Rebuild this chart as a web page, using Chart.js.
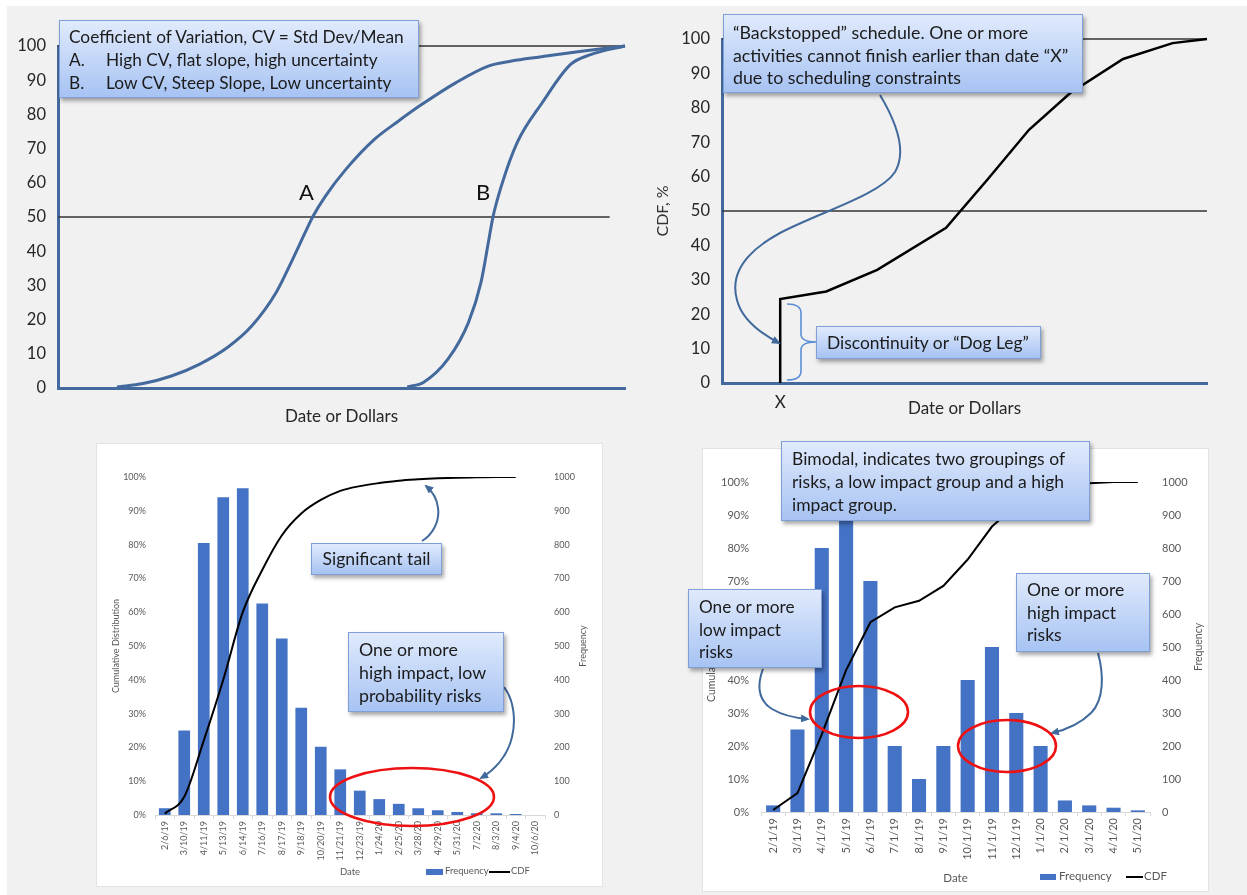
<!DOCTYPE html>
<html>
<head>
<meta charset="utf-8">
<script src="https://cdn.jsdelivr.net/npm/chart.js@4.4.1/dist/chart.umd.min.js"></script>
<style>
  html, body { margin: 0; padding: 0; width: 1247px; height: 895px; overflow: hidden; background: #fff; font-family: Lato, "Open Sans", sans-serif; }
  #stage { position: absolute; left: 7px; top: 6px; width: 1240px; height: 889px; background: #f1f1f1; }
  .card { position: absolute; background: #fff; border: 1px solid #e3e3e3; box-sizing: border-box; }
  canvas { position: absolute; }
  .callout { position: absolute; box-sizing: border-box; border: 1px solid #7f9fd6;
             background: linear-gradient(#e0eafc, #a7c3f3); box-shadow: 2px 3px 4px rgba(0,0,0,0.35);
             color: #1b1b1b; white-space: nowrap; }
  .lbl { position: absolute; white-space: nowrap; }
  .tab { display: inline-block; width: 37px; }
  #marks { position: absolute; left: 0; top: 0; }
  .key { position: absolute; }
</style>
</head>
<body>
<div id="stage"></div>
<div class="card" style="left:96px;top:443px;width:507px;height:444px"></div>
<div class="card" style="left:702px;top:448px;width:507px;height:444px"></div>

<canvas id="cvSpread" width="633" height="424" style="left:7px;top:6px"></canvas>
<canvas id="cvBackstop" width="607" height="424" style="left:640px;top:6px"></canvas>
<canvas id="cvTail" width="506" height="443" style="left:96px;top:443px"></canvas>
<canvas id="cvBimodal" width="506" height="443" style="left:702px;top:448px"></canvas>

<!-- curve names -->
<div class="lbl" style="left:299px;top:178px;font-size:22px;color:#111">A</div>
<div class="lbl" style="left:476px;top:178px;font-size:22px;color:#111">B</div>

<!-- legends for the two histogram charts -->
<div class="key" style="left:426px;top:869px;width:17px;height:6px;background:#4472c4"></div>
<div class="lbl" style="left:445px;top:865px;font-size:9.5px;color:#595959">Frequency</div>
<div class="key" style="left:489px;top:871px;width:21px;height:2px;background:#000"></div>
<div class="lbl" style="left:511px;top:865px;font-size:9.5px;color:#595959">CDF</div>

<div class="key" style="left:1040px;top:874px;width:16px;height:6px;background:#4472c4"></div>
<div class="lbl" style="left:1059px;top:869px;font-size:11.5px;color:#595959">Frequency</div>
<div class="key" style="left:1126px;top:876px;width:17px;height:2px;background:#000"></div>
<div class="lbl" style="left:1144px;top:869px;font-size:11.5px;color:#595959">CDF</div>

<!-- connectors, brace and highlight rings -->
<svg id="marks" width="1247" height="895" viewBox="0 0 1247 895">
  <defs>
    <marker id="head" markerWidth="9" markerHeight="8" refX="7" refY="4" orient="auto" markerUnits="userSpaceOnUse">
      <path d="M0,0 L9,4 L0,8 z" fill="#41699c"/>
    </marker>
  </defs>
  <g fill="none" stroke="#41699c" stroke-width="2" marker-end="url(#head)">
    <path d="M880,95 C895,120 908,150 895,172 C880,195 820,212 780,233 C745,252 730,275 737,300 C742,320 760,333 779,343"/>
    <path d="M422,541 C432,535 440,522 438,508 C437,498 432,491 426,486"/>
    <path d="M504,687 C514,700 516,720 512,737 C508,755 495,770 481,778"/>
    <path d="M763,669 C757,685 758,700 772,709 C782,715 795,718 808,719"/>
    <path d="M1098,653 C1104,675 1104,700 1091,713 C1080,724 1065,730 1052,733"/>
  </g>
  <path d="M787,304 Q801,304 801,313 L801,334 Q801,342 816,342 Q801,342 801,350 L801,371 Q801,380 787,380"
        fill="none" stroke="#5b8fd6" stroke-width="1.6"/>
  <g fill="none" stroke="#ee1111" stroke-width="2.6">
    <ellipse cx="412" cy="797" rx="82" ry="29"/>
    <ellipse cx="859" cy="712" rx="49" ry="26"/>
    <ellipse cx="1007" cy="746" rx="49" ry="26"/>
  </g>
</svg>

<!-- callouts -->
<div class="callout" style="left:59px;top:20px;width:360px;height:78px;font-size:17.3px;line-height:23px;padding:4px 0 0 9px">
  Coefficient of Variation, CV = Std Dev/Mean<br>
  <span class="tab">A.</span>High CV, flat slope, high uncertainty<br>
  <span class="tab">B.</span>Low CV, Steep Slope, Low uncertainty
</div>
<div class="callout" style="left:723px;top:14px;width:360px;height:79px;font-size:17.8px;line-height:22.5px;padding:6px 0 0 9px">
  “Backstopped” schedule. One or more<br>
  activities cannot finish earlier than date “X”<br>
  due to scheduling constraints
</div>
<div class="callout" style="left:816px;top:326px;width:225px;height:33px;font-size:17.4px;line-height:31px;padding:0 0 0 10px">
  Discontinuity or “Dog Leg”
</div>
<div class="callout" style="left:311px;top:543px;width:131px;height:32px;font-size:17.6px;line-height:30px;text-align:center">
  Significant tail
</div>
<div class="callout" style="left:348px;top:632px;width:156px;height:80px;font-size:17.8px;line-height:23px;padding:5px 0 0 10px">
  One or more<br>high impact, low<br>probability risks
</div>
<div class="callout" style="left:781px;top:441px;width:309px;height:80px;font-size:17.5px;line-height:23px;padding:5px 0 0 10px">
  Bimodal, indicates two groupings of<br>risks, a low impact group and a high<br>impact group.
</div>
<div class="callout" style="left:688px;top:589px;width:134px;height:79px;font-size:17.2px;line-height:22.5px;padding:6px 0 0 10px">
  One or more<br>low impact<br>risks
</div>
<div class="callout" style="left:1016px;top:573px;width:134px;height:79px;font-size:17.5px;line-height:22.5px;padding:5px 0 0 10px">
  One or more<br>high impact<br>risks
</div>

<script>
// ---- Coefficient-of-variation sketch: x is a fraction of the horizontal span, y is CDF %
const curveAX = [0.104, 0.150, 0.200, 0.250, 0.300, 0.342, 0.385, 0.414, 0.436, 0.450, 0.472, 0.508, 0.558, 0.600, 0.638, 0.702, 0.760, 0.800, 0.850, 0.920, 1.000];
const curveAY = [0.3, 1.3, 3.5, 7.0, 12.0, 18.2, 28.0, 37.7, 45.5, 50.3, 56.2, 64.0, 72.7, 78.0, 82.5, 89.3, 94.2, 95.6, 96.8, 98.4, 100];
const curveBX = [0.616, 0.645, 0.688, 0.724, 0.746, 0.760, 0.767, 0.782, 0.810, 0.854, 0.904, 0.938, 1.000];
const curveBY = [0.3, 1.7, 8.5, 19.2, 30.9, 43.5, 49.9, 59.1, 71.8, 83.4, 94.6, 97.4, 100];

// ---- Backstopped schedule: CDF with a vertical jump at date X
const backstopX = [0.12, 0.12, 0.215, 0.32, 0.462, 0.547, 0.633, 0.718, 0.827, 0.929, 1.0];
const backstopY = [0, 24.4, 26.6, 32.9, 45.1, 59.1, 73.6, 84.3, 94.2, 98.8, 100];
const dateMarkX = 0.12;

// ---- Histogram with a long tail
const tailDates = ['2/6/19','3/10/19','4/11/19','5/13/19','6/14/19','7/16/19','8/17/19','9/18/19','10/20/19','11/21/19',
                   '12/23/19','1/24/20','2/25/20','3/28/20','4/29/20','5/31/20','7/2/20','8/3/20','9/4/20','10/6/20'];
const tailFreq  = [20, 250, 805, 940, 967, 626, 522, 317, 202, 135, 72, 47, 33, 20, 14, 9, 5, 5, 3, 0];
const tailCdf   = [0.4, 5.4, 22, 40, 60, 72.5, 82.7, 89.2, 93.2, 95.9, 97.3, 98.2, 98.9, 99.3, 99.6, 99.8, 99.9, 100, 100, null];

// ---- Bimodal histogram
const groupDates = ['2/1/19','3/1/19','4/1/19','5/1/19','6/1/19','7/1/19','8/1/19','9/1/19','10/1/19','11/1/19',
                    '12/1/19','1/1/20','2/1/20','3/1/20','4/1/20','5/1/20'];
const groupFreq  = [20, 250, 800, 950, 700, 200, 100, 200, 400, 500, 300, 200, 35, 20, 13, 5];
const groupCdf   = [0.6, 5.7, 23.5, 43, 57.5, 62, 64, 68.5, 76.5, 86.5, 93, 97.5, 99, 99.6, 100, 100];

const pctTicks  = [0, 10, 20, 30, 40, 50, 60, 70, 80, 90, 100];
const freqTicks = [0, 100, 200, 300, 400, 500, 600, 700, 800, 900, 1000];

const STEEL = '#44699c';
const BAR = '#4472c4';
const INK = '#262626';
const MUTED = '#595959';

Chart.defaults.font.family = 'Lato, "Open Sans", sans-serif';
Chart.defaults.animation = false;
Chart.defaults.responsive = false;
Chart.defaults.plugins.legend.display = false;
Chart.defaults.plugins.tooltip.enabled = false;

const pts = (xs, ys) => xs.map((x, i) => ({ x, y: ys[i] }));
const guide = (x0, x1, level) => [{ x: x0, y: level }, { x: x1, y: level }];

// Vertical title on the right-hand axis, reading bottom to top
const sideTitle = {
  id: 'sideTitle',
  afterDraw(chart, args, o) {
    if (!o || !o.text) return;
    const { ctx, chartArea } = chart;
    ctx.save();
    ctx.translate(o.x, (chartArea.top + chartArea.bottom) / 2);
    ctx.rotate(-Math.PI / 2);
    ctx.font = o.size + 'px ' + Chart.defaults.font.family;
    ctx.fillStyle = MUTED;
    ctx.textAlign = 'center';
    ctx.textBaseline = 'middle';
    ctx.fillText(o.text, 0, 0);
    ctx.restore();
  }
};

function lineSet(data, color, width, smooth) {
  return { data, borderColor: color, borderWidth: width, pointRadius: 0, fill: false,
           cubicInterpolationMode: smooth ? 'monotone' : 'default', tension: 0, clip: 4 };
}

// Panel 1: two S-curves
new Chart(document.getElementById('cvSpread'), {
  type: 'line',
  data: { datasets: [
    lineSet(pts(curveAX, curveAY), STEEL, 3, true),
    lineSet(pts(curveBX, curveBY), STEEL, 3, true),
    lineSet(guide(0, 1, 100), '#333', 1.5, false),
    lineSet(guide(0, 0.973, 50), '#333', 1.5, false)
  ]},
  options: {
    layout: { padding: { left: 0, right: 15, top: 40, bottom: 0 } },
    scales: {
      x: { type: 'linear', min: 0, max: 1,
           grid: { display: false, drawTicks: false }, ticks: { display: false },
           border: { color: STEEL, width: 3 },
           title: { display: true, text: 'Date or Dollars', color: INK, font: { size: 17 }, padding: { top: 0, bottom: 3 } },
           afterFit(s) { s.height = 42; } },
      y: { min: 0, max: 100,
           afterBuildTicks(s) { s.ticks = pctTicks.map(v => ({ value: v })); },
           ticks: { padding: 12, color: INK, font: { size: 16.5 } },
           grid: { display: false, drawTicks: false },
           border: { color: STEEL, width: 3 },
           afterFit(s) { s.width = 51; } }
    }
  }
});

// Panel 2: backstopped schedule
new Chart(document.getElementById('cvBackstop'), {
  type: 'line',
  data: { datasets: [
    lineSet(pts(backstopX, backstopY), '#000', 2.5, false),
    lineSet(guide(0, 1, 100), '#333', 1.5, false),
    lineSet(guide(0, 1, 50), '#333', 1.5, false)
  ]},
  options: {
    layout: { padding: { left: 0, right: 40, top: 33, bottom: 0 } },
    scales: {
      x: { type: 'linear', min: 0, max: 1,
           afterBuildTicks(s) { s.ticks = [{ value: dateMarkX }]; },
           ticks: { callback: () => 'X', padding: 9, color: INK, font: { size: 17 }, maxRotation: 0 },
           grid: { display: false, drawTicks: false },
           border: { color: STEEL, width: 3 },
           title: { display: true, text: 'Date or Dollars', color: INK, font: { size: 17 }, padding: { top: 0, bottom: 11 } },
           afterFit(s) { s.height = 47; } },
      y: { min: 0, max: 100,
           afterBuildTicks(s) { s.ticks = pctTicks.map(v => ({ value: v })); },
           ticks: { padding: 12, color: INK, font: { size: 16.5 } },
           grid: { display: false, drawTicks: false },
           border: { color: STEEL, width: 3 },
           title: { display: true, text: 'CDF, %', color: '#333', font: { size: 16 }, padding: { top: 13, bottom: 0 } },
           afterFit(s) { s.width = 82; } }
    }
  }
});

// Histogram + CDF builder for the two lower panels
function histogram(id, labels, freq, cdf, o) {
  return new Chart(document.getElementById(id), {
    type: 'bar',
    data: { labels, datasets: [
      { type: 'line', data: cdf, yAxisID: 'yP', order: 0, borderColor: '#000', borderWidth: 2,
        pointRadius: 0, fill: false, tension: 0, cubicInterpolationMode: o.smooth ? 'monotone' : 'default', spanGaps: false },
      { type: 'bar', data: freq, yAxisID: 'yF', order: 1, backgroundColor: BAR,
        categoryPercentage: 1, barPercentage: o.barPct }
    ]},
    plugins: [sideTitle],
    options: {
      layout: { padding: { left: 0, right: 0, top: 34, bottom: 0 } },
      plugins: { sideTitle: { text: 'Frequency', x: o.rightTitleX, size: o.titleSize } },
      scales: {
        x: { grid: { display: true, drawOnChartArea: false, drawTicks: true, tickLength: 4, color: '#d9d9d9', offset: true },
             border: { display: true, color: '#d9d9d9', width: 1 },
             ticks: { autoSkip: false, minRotation: 90, maxRotation: 90, padding: 2, color: MUTED, font: { size: o.catSize } },
             title: { display: true, text: 'Date', color: MUTED, font: { size: o.dateSize }, padding: { top: 0, bottom: o.datePad } },
             afterFit(s) { s.height = o.xHeight; } },
        yP: { position: 'left', min: 0, max: 100,
              afterBuildTicks(s) { s.ticks = pctTicks.map(v => ({ value: v })); },
              ticks: { callback: v => v + '%', padding: o.tickPad, color: MUTED, font: { size: o.tickSize } },
              grid: { display: false, drawTicks: false }, border: { display: false },
              title: { display: true, text: 'Cumulative Distribution', color: MUTED, font: { size: o.titleSize }, padding: { top: o.leftTitlePad, bottom: 0 } },
              afterFit(s) { s.width = 59; } },
        yF: { position: 'right', min: 0, max: 1000,
              afterBuildTicks(s) { s.ticks = freqTicks.map(v => ({ value: v })); },
              ticks: { callback: v => String(v), padding: o.tickPad, color: MUTED, font: { size: o.tickSize } },
              grid: { display: false, drawTicks: false }, border: { display: false },
              afterFit(s) { s.width = o.rightWidth; } }
      }
    }
  });
}

histogram('cvTail', tailDates, tailFreq, tailCdf, {
  smooth: true, barPct: 0.6, catSize: 9, dateSize: 9.5, datePad: 8, xHeight: 71,
  tickPad: 9, tickSize: 9, titleSize: 9, leftTitlePad: 14.5, rightWidth: 57, rightTitleX: 487
});

histogram('cvBimodal', groupDates, groupFreq, groupCdf, {
  smooth: false, barPct: 0.58, catSize: 11, dateSize: 11.5, datePad: 6, xHeight: 79,
  tickPad: 12, tickSize: 11, titleSize: 10.5, leftTitlePad: 3.7, rightWidth: 58, rightTitleX: 497
});
</script>
</body>
</html>
